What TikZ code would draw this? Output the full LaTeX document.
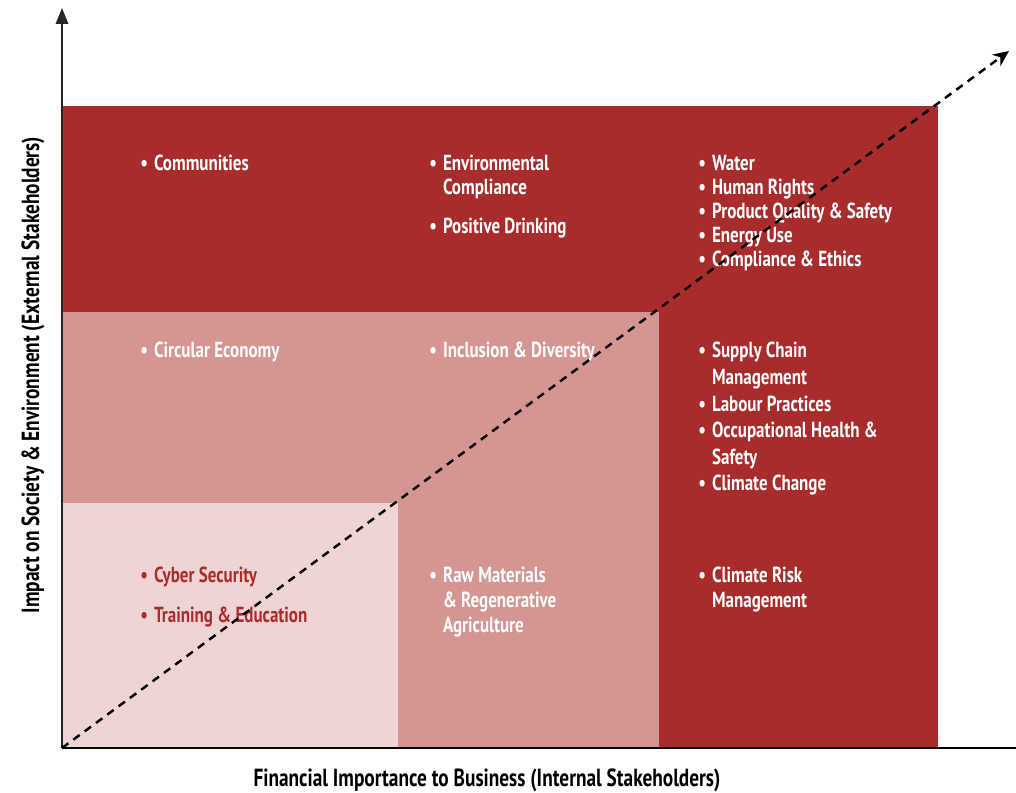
\documentclass[tikz,border=0pt]{standalone}
\usepackage{fontspec}
\setmainfont[FakeStretch=0.78]{PT Sans}
\usetikzlibrary{arrows.meta,positioning}
\usepackage{xcolor}

\definecolor{matdark}{HTML}{A82C2C}
\definecolor{matmid}{HTML}{D49593}
\definecolor{matlight}{HTML}{EED4D3}

\newcommand{\bul}{\makebox[7.8pt][l]{\textbullet}}
\newcommand{\ind}{\hspace*{7.8pt}}
% first line on the node's base
\newcommand{\lines}[2]{\fontsize{12.4}{#1}\selectfont\begin{tabular}[t]{@{}l@{}}#2\end{tabular}}

\tikzset{
  item/.style={anchor=base west, inner sep=0pt, text=white,
    font=\bfseries\fontsize{12.4}{13.6}\selectfont},
  itemred/.style={item, text=matdark},
  axislabel/.style={inner sep=0pt, font=\bfseries\fontsize{14.1}{16}\selectfont}
}

\begin{document}
\begin{tikzpicture}[x=0.02cm,y=0.02cm]
  \useasboundingbox (0,0) rectangle (1016,793);

  % matrix cells
  \fill[matdark] (62,45) rectangle (938,687);
  \fill[matmid] (62,290) rectangle (659,481);
  \fill[matmid] (398,45) rectangle (659,290);
  \fill[matlight] (62,45) rectangle (398,290);

  % axes
  \coordinate (O) at (62,45);
  \coordinate (ytop) at (62,785);
  \coordinate (xend) at (1016,45);
  \coordinate (diag) at (1009,742);
  \draw[line width=1pt, black!85, -{Triangle[length=9pt,width=7pt]}] (O) -- (ytop);
  \draw[line width=1pt] (O) -- (xend);

  % top band
  \node[item] (comm) at (140,622) {\bul Communities};
  \node[item] (envc) at (429,622) {\lines{13.6pt}{\bul Environmental\\\ind Compliance}};
  \node[item] (posd) at (429,559) {\bul Positive Drinking};
  \node[item] (water) at (698,622) {\lines{13.6pt}{\bul Water\\\bul Human Rights\\\bul Product Quality \& Safety\\\bul Energy Use\\\bul Compliance \& Ethics}};

  % middle band
  \node[item] (circ) at (140,435) {\bul Circular Economy};
  \node[item] (incl) at (429,435) {\bul Inclusion \& Diversity};
  \node[item] (supply) at (698,435)
    {\lines{15.1pt}{\bul Supply Chain\\\ind Management\\\bul Labour Practices\\\bul Occupational Health \&\\\ind Safety\\\bul Climate Change}};

  % bottom band
  \node[itemred] (cyber) at (140,210) {\bul Cyber Security};
  \node[itemred] (train) at (140,170) {\bul Training \& Education};
  \node[item] (raw) at (429,210)
    {\lines{14.2pt}{\bul Raw Materials\\\ind \& Regenerative\\\ind Agriculture}};
  \node[item] (risk) at (698,210)
    {\lines{14.2pt}{\bul Climate Risk\\\ind Management}};

  % diagonal
  \draw[line width=1.4pt, dash pattern=on 4.5pt off 3.5pt, -{Stealth[length=9pt,width=8pt]}] (O) -- (diag);

  % axis labels
  \node[axislabel, anchor=base] (xlab) at (487,6) {Financial Importance to Business (Internal Stakeholders)};
  \node[axislabel, anchor=base, rotate=90] (ylab) at (39,418) {Impact on Society \& Environment (External Stakeholders)};
\end{tikzpicture}
\end{document}
